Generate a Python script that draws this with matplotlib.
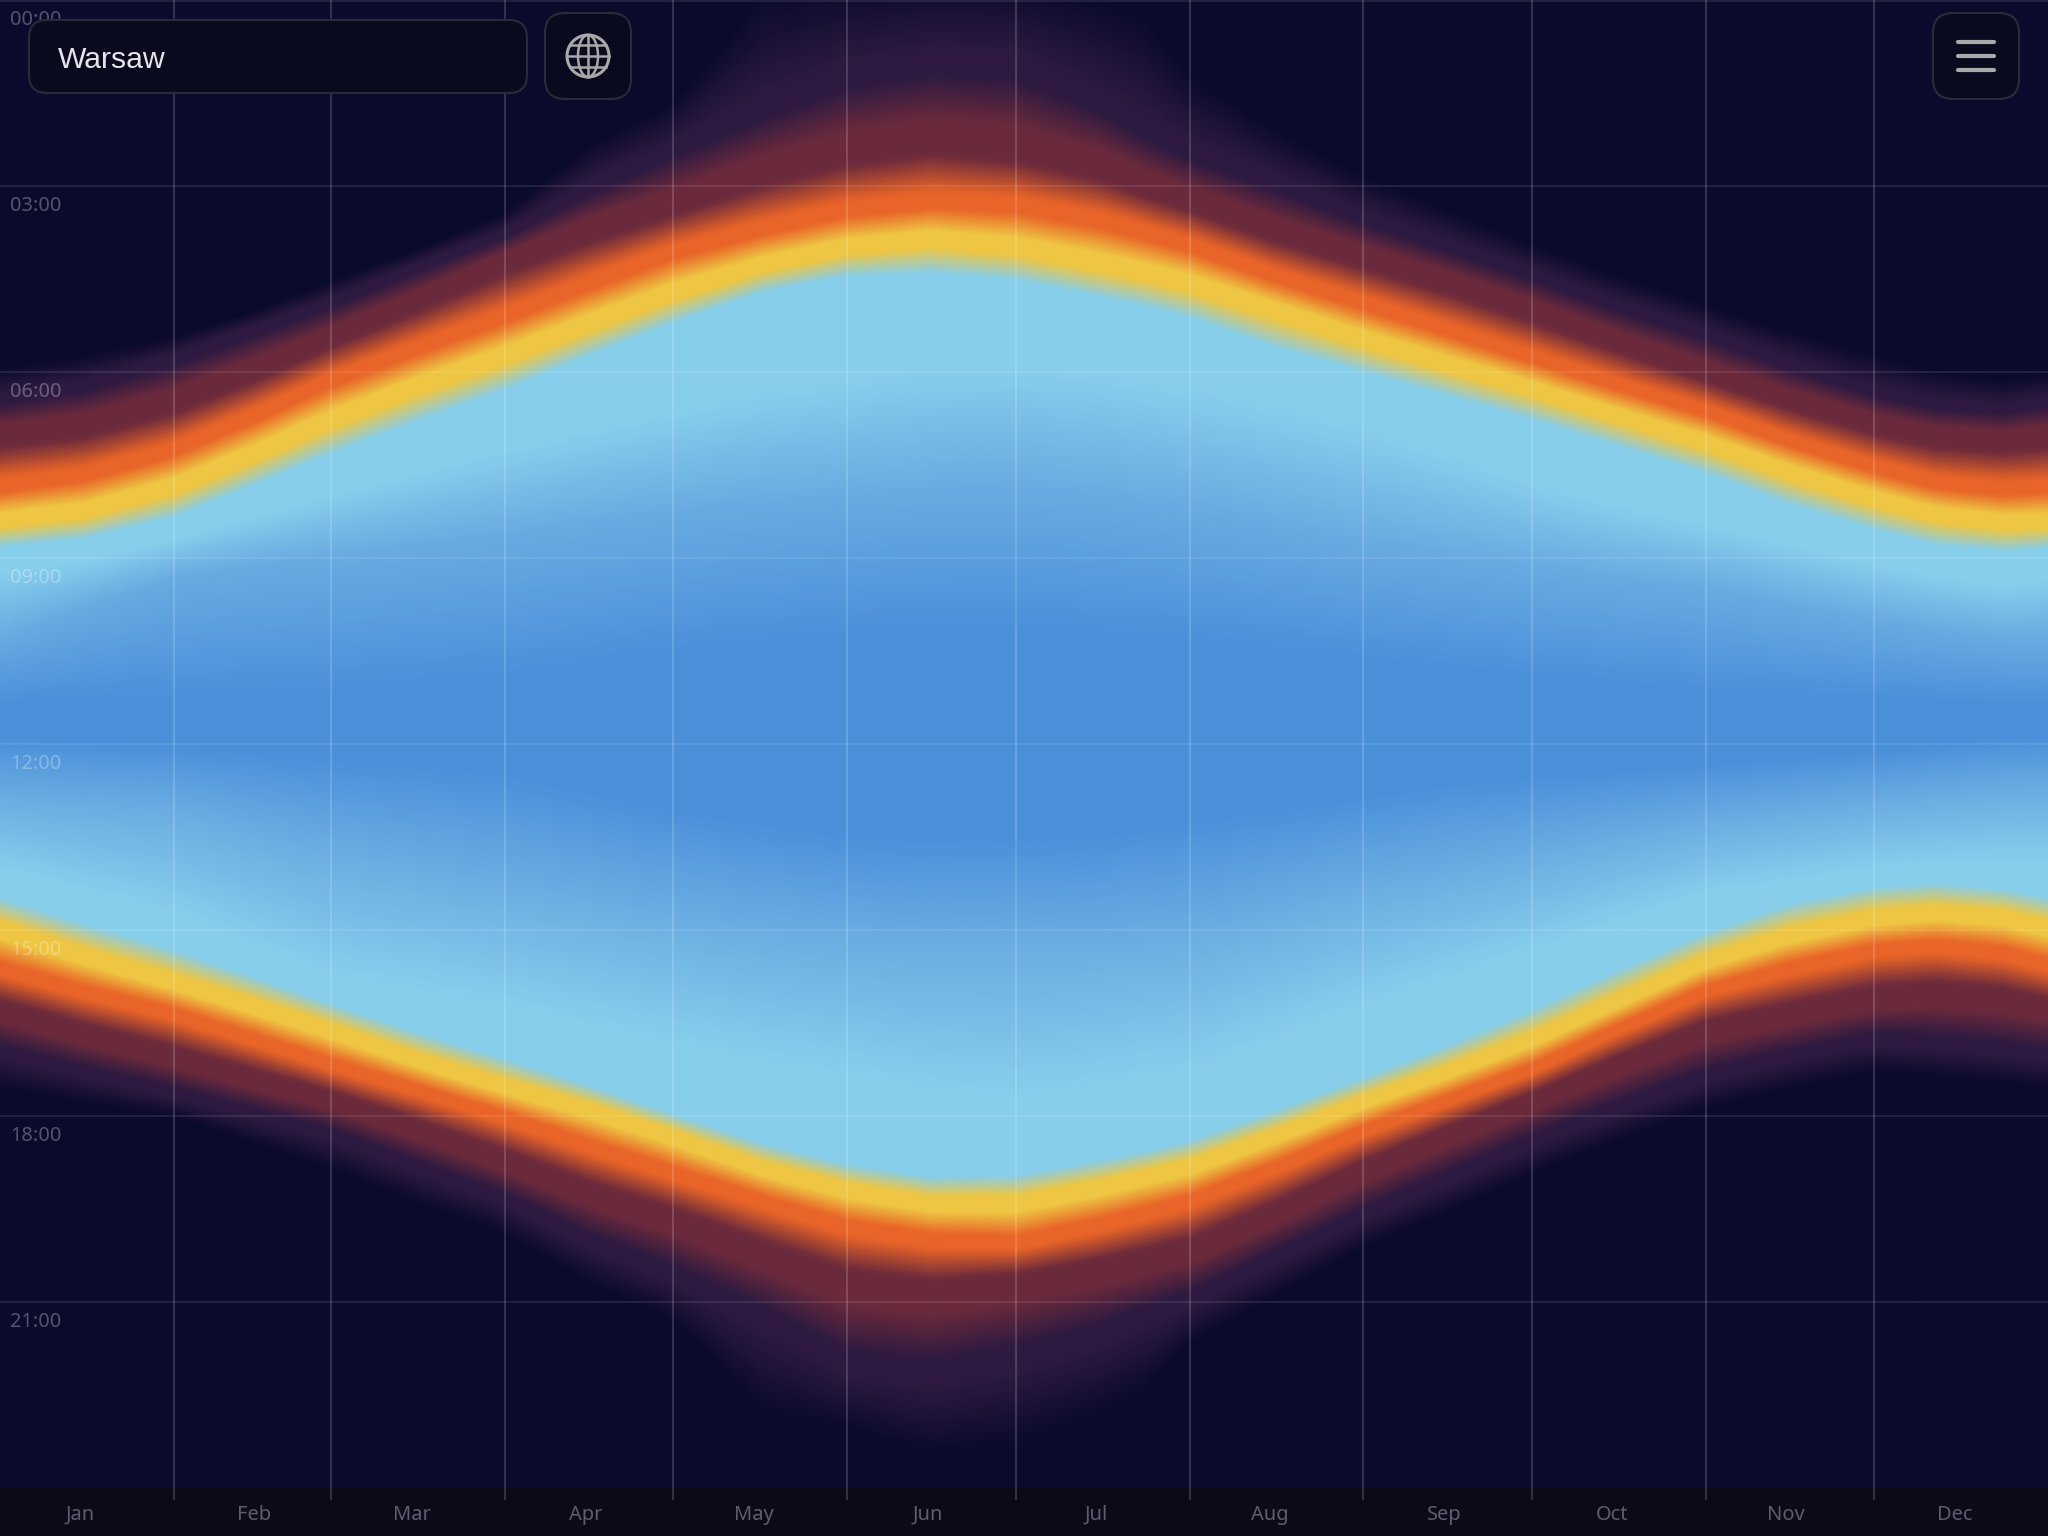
import numpy as np
import matplotlib
matplotlib.use("Agg")
import matplotlib.pyplot as plt
from matplotlib.colors import LinearSegmentedColormap
from matplotlib.patches import FancyBboxPatch, Ellipse

months = ["Jan", "Feb", "Mar", "Apr", "May", "Jun", "Jul", "Aug", "Sep", "Oct", "Nov", "Dec"]
month_starts = [0, 31, 59, 90, 120, 151, 181, 212, 243, 273, 304, 334]
hour_ticks = [0, 3, 6, 9, 12, 15, 18, 21]
city = "Warsaw"

# day of year for every column of the band curves
days = [0, 15, 31, 45, 59, 74, 90, 105, 120, 136, 151, 166, 181, 196, 204, 212, 227, 243,
        258, 273, 288, 304, 319, 334, 345, 357, 365]

# morning edges, hour of day where each colour sits
night_am = [5.90, 5.70, 5.40, 5.00, 4.50, 4.00, 3.40, 2.30, 1.61, -0.20, -0.35, -0.45, -0.40, -0.10, 0.15, 1.10,
            2.00, 2.78, 3.35, 3.90, 4.40, 4.88, 5.30, 5.68, 5.95, 6.10, 6.00]
purple_am = [6.42, 6.18, 5.75, 5.30, 4.85, 4.30, 3.75, 3.00, 2.37, 1.72, 1.18, 0.97, 1.02, 1.61, 2.05, 2.42,
             2.90, 3.49, 3.95, 4.40, 4.90, 5.35, 5.85, 6.30, 6.50, 6.58, 6.45]
red_am = [6.95, 6.80, 6.42, 5.92, 5.38, 4.80, 4.15, 3.65, 3.23, 2.72, 2.37, 2.17, 2.31, 2.63, 2.92, 3.17,
          3.66, 4.09, 4.50, 4.95, 5.45, 5.95, 6.40, 6.78, 6.98, 7.04, 6.98]
orange_am = [7.81, 7.63, 7.22, 6.68, 6.10, 5.59, 5.06, 4.53, 4.03, 3.66, 3.36, 3.22, 3.28, 3.52, 3.72, 3.92,
             4.41, 4.86, 5.29, 5.73, 6.17, 6.60, 7.08, 7.50, 7.76, 7.86, 7.82]
yellow_am = [8.43, 8.27, 7.88, 7.36, 6.80, 6.27, 5.77, 5.25, 4.75, 4.30, 4.02, 3.89, 4.02, 4.28, 4.43, 4.60,
             5.03, 5.50, 5.90, 6.30, 6.72, 7.16, 7.65, 8.07, 8.33, 8.46, 8.44]
sky_am = [8.83, 8.70, 8.35, 7.85, 7.33, 6.82, 6.30, 5.75, 5.22, 4.72, 4.46, 4.41, 4.52, 4.80, 4.95, 5.14,
          5.62, 6.02, 6.40, 6.78, 7.20, 7.65, 8.15, 8.56, 8.80, 8.90, 8.85]
sky_hold_am = [9.25, 9.05, 8.70, 8.35, 8.00, 7.65, 7.28, 6.97, 6.67, 6.35, 6.17, 5.95, 5.93, 6.05, 6.20, 6.30,
               6.55, 6.90, 7.35, 7.80, 8.15, 8.46, 8.80, 9.10, 9.30, 9.45, 9.35]
mid_am = [10.3, 9.80, 9.32, 9.15, 9.00, 8.82, 8.64, 8.45, 8.27, 8.12, 8.02, 7.92, 7.90, 8.00, 8.12, 8.20,
          8.48, 8.77, 8.95, 9.14, 9.32, 9.50, 9.75, 10.0, 10.15, 10.3, 10.3]
blue_am = [11.4, 11.35, 11.3, 11.25, 11.2, 11.1, 11.0, 10.8, 10.6, 10.45, 10.3, 10.2, 10.2, 10.3, 10.35, 10.4,
           10.55, 10.7, 10.85, 11.0, 11.1, 11.2, 11.25, 11.3, 11.35, 11.4, 11.4]

# afternoon edges
blue_pm = [11.9, 11.95, 12.0, 12.1, 12.2, 12.3, 12.4, 12.7, 13.0, 13.2, 13.4, 13.5, 13.5, 13.4, 13.3, 13.2,
           13.0, 12.8, 12.6, 12.5, 12.4, 12.3, 12.2, 12.1, 12.0, 11.9, 11.9]
mid_pm = [12.8, 12.9, 13.0, 13.3, 13.6, 13.85, 14.1, 14.35, 14.6, 14.85, 15.0, 15.1, 15.1, 15.05, 15.0, 14.9,
          14.55, 14.2, 13.95, 13.7, 13.45, 13.2, 13.05, 12.9, 12.8, 12.7, 12.7]
sky_hold_pm = [14.0, 14.35, 14.7, 15.2, 15.7, 15.95, 16.2, 16.5, 16.8, 17.1, 17.3, 17.55, 17.66, 17.5, 17.35, 17.27,
               16.75, 16.2, 15.75, 15.3, 14.85, 14.4, 14.2, 14.0, 13.95, 13.9, 13.9]
sky_pm = [14.47, 14.89, 15.31, 15.74, 16.18, 16.63, 17.07, 17.50, 17.96, 18.44, 18.77, 18.98, 18.95, 18.71, 18.56, 18.39,
          17.91, 17.37, 16.85, 16.28, 15.65, 15.03, 14.57, 14.30, 14.24, 14.33, 14.47]
yellow_pm = [14.96, 15.40, 15.82, 16.20, 16.60, 17.07, 17.50, 17.87, 18.31, 18.82, 19.17, 19.38, 19.38, 19.12, 18.96, 18.79,
             18.31, 17.75, 17.27, 16.75, 16.15, 15.49, 15.06, 14.78, 14.70, 14.78, 14.94]
orange_pm = [15.66, 16.03, 16.39, 16.79, 17.20, 17.60, 18.05, 18.52, 18.95, 19.41, 19.82, 20.03, 20.08, 19.79, 19.60, 19.41,
             18.87, 18.26, 17.77, 17.27, 16.64, 16.01, 15.65, 15.36, 15.29, 15.40, 15.60]
red_pm = [16.34, 16.73, 17.10, 17.45, 17.79, 18.25, 18.78, 19.30, 19.73, 20.27, 20.76, 20.92, 20.76, 20.54, 20.38, 20.22,
          19.63, 18.93, 18.35, 17.79, 17.23, 16.67, 16.41, 16.15, 16.08, 16.18, 16.32]
purple_pm = [17.00, 17.33, 17.66, 17.99, 18.32, 18.84, 19.37, 20.05, 20.59, 21.29, 22.05, 22.21, 21.94, 21.56, 21.25, 21.00,
             20.33, 19.63, 19.04, 18.45, 17.92, 17.40, 17.07, 16.80, 16.87, 16.97, 17.07]
night_pm = [17.59, 17.82, 18.05, 18.48, 18.91, 19.44, 19.96, 20.75, 21.35, 22.90, 23.12, 23.55, 23.39, 22.90, 22.50, 21.74,
            20.97, 20.16, 19.60, 18.98, 18.45, 17.92, 17.59, 17.33, 17.40, 17.50, 17.59]

night, purple, red, orange, yellow, sky, mid, blue = ("#0a0a2c", "#2e1a40", "#6b2a3c", "#e96428",
                                                       "#eec643", "#87ceeb", "#68abe2", "#4a90d9")
# (curve level, colour) pairs, the flat stretches are the plateaus of each band
ramp = [(0, night), (0.05, night), (0.9, purple), (1.2, purple), (1.8, red), (2.3, red), (2.88, orange),
        (3.2, orange), (3.75, yellow), (4.2, yellow), (5, sky), (6, mid), (7, blue)]

curves = [night_am, purple_am, red_am, orange_am, yellow_am, sky_am, sky_hold_am, mid_am, blue_am,
          blue_pm, mid_pm, sky_hold_pm, sky_pm, yellow_pm, orange_pm, red_pm, purple_pm, night_pm]
curve_levels = [0, 1, 2, 3, 4, 5, 5, 6, 7, 7, 6, 5, 5, 4, 3, 2, 1, 0]

W, H, BAR = 2048, 1536, 48
PX_H = (H - BAR) / 24.0

fig = plt.figure(figsize=(20.48, 15.36), dpi=100, facecolor="#0b0b18")
ax = fig.add_axes([0, BAR / H, 1, 1 - BAR / H])

cmap = LinearSegmentedColormap.from_list("sun", [(p / 7.0, c) for p, c in ramp], N=1024)

# split each gap between two curves into thin rows so the ramp shows up in gouraud
T = np.array(curves)
L = np.array(curve_levels, dtype=float)
frac = np.linspace(0, 1, 12, endpoint=False)[:, None]
rows = [np.full((1, len(days)), -3.0)]
levels = [np.zeros(1)]
for i in range(len(curves) - 1):
    rows.append(T[i] + frac * (T[i + 1] - T[i]))
    levels.append(L[i] + frac[:, 0] * (L[i + 1] - L[i]))
rows += [T[-1:], np.full((1, len(days)), 27.0)]
levels += [np.zeros(2)]
Y = np.vstack(rows)
C = np.tile(np.concatenate(levels)[:, None], (1, len(days)))
X = np.tile(np.array(days, dtype=float), (Y.shape[0], 1))
ax.pcolormesh(X, Y, C, shading="gouraud", cmap=cmap, vmin=0, vmax=7, zorder=1)

ax.set_xlim(0, 365)
ax.set_ylim(24, 0)
ax.axis("off")

# grid
for h in hour_ticks:
    ax.axhline(max(h, 0.02), color="white", alpha=0.09, lw=1.5, zorder=2)
ax.vlines(month_starts[1:], 0, 24 + 12 / PX_H, color="white", alpha=0.16, lw=1.5, zorder=2, clip_on=False)

for h in hour_ticks:
    ax.annotate("%02d:00" % h, xy=(0, h), xytext=(10, -20), xycoords="data", textcoords="offset pixels",
                va="center", ha="left", fontsize=14.4, family="Noto Sans", color="white", alpha=0.3,
                zorder=3, annotation_clip=False)
for d, name in zip(month_starts, months):
    ax.annotate(name, xy=(d + 14, 24), xytext=(2, -27), xycoords="data", textcoords="offset pixels",
                va="center", ha="center", fontsize=14.4, family="Noto Sans", color="#5d5d6e",
                annotation_clip=False)

# page controls on top, drawn in pixels
ov = fig.add_axes([0, 0, 1, 1], facecolor="none")
ov.set_xlim(0, W)
ov.set_ylim(H, 0)
ov.axis("off")


def box(x0, y0, x1, y1, r):
    ov.add_patch(FancyBboxPatch((x0 + r, y0 + r), x1 - x0 - 2 * r, y1 - y0 - 2 * r,
                                boxstyle="round,pad=%d,rounding_size=%d" % (r, r),
                                fc="#0a0a1f", ec="#2a2a3a", lw=1.5))


box(29, 20, 527, 93, 18)
box(545, 13, 631, 99, 20)
box(1933, 13, 2019, 99, 20)
ov.text(58, 60, city, fontsize=21.7, family="Liberation Sans", color="#e4e4ea", va="center", ha="left")

# globe icon
gc = "#a8a8a8"
ov.add_patch(Ellipse((588, 56), 42, 42, fc="none", ec=gc, lw=2.2))
ov.add_patch(Ellipse((588, 56), 20, 42, fc="none", ec=gc, lw=1.8))
ov.plot([588, 588], [35, 77], color=gc, lw=1.8)
ov.plot([567, 609], [56, 56], color=gc, lw=1.8)
ov.plot([570, 606], [45, 45], color=gc, lw=1.8)
ov.plot([570, 606], [67, 67], color=gc, lw=1.8)

# menu icon
for yy in [42, 56, 70]:
    ov.plot([1958, 1994], [yy, yy], color="#aaaaaa", lw=3, solid_capstyle="round")

fig.savefig("out.png", dpi=100, facecolor=fig.get_facecolor())
